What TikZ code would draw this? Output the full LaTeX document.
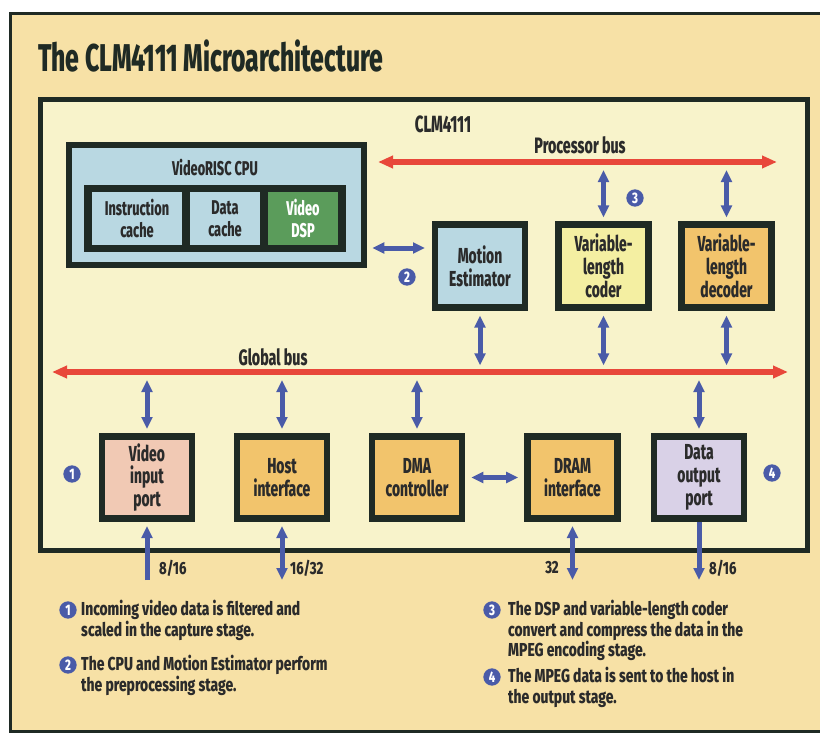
\documentclass[tikz,border=0pt]{standalone}
\usepackage{fontspec}
\setmainfont{Fira Sans}[FakeStretch=0.74,BoldFont={Fira Sans ExtraBold}]
\newfontfamily\unitfont{Fira Sans}[FakeStretch=0.64,BoldFont={Fira Sans ExtraBold}]
\usepackage{tikz}
\usetikzlibrary{arrows.meta,positioning,calc}
\definecolor{CLMInk}{HTML}{1F2A24}
\definecolor{CLMText}{HTML}{2B2B2B}
\definecolor{CLMRed}{HTML}{E8473A}
\definecolor{CLMBlue}{HTML}{4A5BA8}
\definecolor{CLMTan}{HTML}{F7E1A6}
\definecolor{CLMCream}{HTML}{F8F3CB}
\definecolor{CLMSky}{HTML}{B9D8E2}
\definecolor{CLMGreen}{HTML}{5B9C5B}
\definecolor{CLMLemon}{HTML}{F4EFA2}
\definecolor{CLMAmber}{HTML}{F2C46C}
\definecolor{CLMRose}{HTML}{F1C9B4}
\definecolor{CLMLilac}{HTML}{D9D1E7}

\begin{document}
\begin{tikzpicture}[
    x=0.03cm,y=-0.03cm,
    unit/.style={draw=CLMInk,line width=0.2cm,minimum width=2.7cm,
      minimum height=2.47cm,align=center,inner sep=0pt,text=CLMText,
      font=\unitfont\bfseries\fontsize{18.5}{19.5}\selectfont},
    cell/.style={minimum height=1.59cm,align=center,inner sep=0pt,
      fill=CLMSky,text=CLMText,font=\unitfont\bfseries\fontsize{17}{19}\selectfont},
    bus/.style={{Triangle[length=0.45cm,width=0.36cm]}-{Triangle[length=0.45cm,width=0.36cm]},
      line width=0.2cm,draw=CLMRed},
    link/.style={{Triangle[length=0.36cm,width=0.32cm]}-{Triangle[length=0.36cm,width=0.32cm]},
      line width=0.15cm,draw=CLMBlue},
    feed/.style={-{Triangle[length=0.36cm,width=0.32cm]},line width=0.15cm,draw=CLMBlue},
    num/.style={circle,fill=CLMBlue,text=white,inner sep=0pt,minimum size=0.52cm,
      font=\bfseries\fontsize{13}{13}\selectfont},
    tag/.style={inner sep=0pt,text=CLMText,font=\bfseries\fontsize{15}{17}\selectfont},
    note/.style={inner sep=0pt,align=left,text=CLMText,
      font=\bfseries\fontsize{16}{17.5}\selectfont}
  ]
    \useasboundingbox (0,0) rectangle (820,733);
    \clip (0,0) rectangle (820,733);
    \fill[white] (0,0) rectangle (820,733);
    \draw[CLMInk,line width=0.09cm,fill=CLMTan] (10,14) rectangle (840,731);
    \node[anchor=base west,inner sep=0pt,text=CLMInk,
      font=\unitfont\bfseries\fontsize{33}{35}\selectfont] (title) at (38,72)
      {The CLM4111 Microarchitecture};
    \draw[CLMInk,line width=0.15cm,fill=CLMCream] (40,100) rectangle (807,550);
    \node[tag,font=\unitfont\bfseries\fontsize{20}{22}\selectfont] (chip) at (443,124) {CLM4111};

    \node[draw=CLMInk,fill=CLMSky,line width=0.2cm,minimum width=8.85cm,
      minimum height=3.6cm,inner sep=0pt] (cpu) at (216.5,205) {};
    \node[tag,font=\unitfont\bfseries\fontsize{17}{19}\selectfont] (cputitle) at (215,168)
      {VideoRISC CPU};
    \node[fill=CLMInk,minimum width=7.86cm,minimum height=2.01cm,inner sep=0pt]
      (strip) at (215,218.5) {};
    \node[cell,minimum width=2.7cm] (icache) at (137,218.5) {Instruction\\cache};
    \node[cell,minimum width=2.1cm] (dcache) at (225,218.5) {Data\\cache};
    \node[cell,minimum width=2.1cm,fill=CLMGreen,text=white] (dsp) at (303,218.5)
      {Video\\DSP};

    \node[unit,fill=CLMSky] (me) at (480,266) {Motion\\Estimator};
    \node[unit,fill=CLMLemon] (vlc) at (603.5,266) {Variable-\\length\\coder};
    \node[unit,fill=CLMAmber] (vld) at (726.5,266) {Variable-\\length\\decoder};

    \node[unit,fill=CLMRose] (vip) at (147,477.5) {Video\\input\\port};
    \node[unit,fill=CLMAmber] (host) at (282,477.5) {Host\\interface};
    \node[unit,fill=CLMAmber] (dma) at (417,477.5) {DMA\\controller};
    \node[unit,fill=CLMAmber] (dram) at (572.5,477.5) {DRAM\\interface};
    \node[unit,fill=CLMLilac] (dop) at (699,477.5) {Data\\output\\port};

    \coordinate (pbL) at (378,162);
    \coordinate (pbR) at (777,162);
    \coordinate (gbL) at (52,372);
    \coordinate (gbR) at (788,372);
    \draw[bus] (pbL) -- (pbR);
    \draw[bus] (gbL) -- (gbR);
    \node[tag,font=\unitfont\bfseries\fontsize{19}{21}\selectfont] (pbtext) at (580,145)
      {Processor bus};
    \node[tag,font=\unitfont\bfseries\fontsize{19}{21}\selectfont] (gbtext) at (273,357)
      {Global bus};

    \draw[link,shorten <=0.24cm,shorten >=0.12cm] (vlc.north |- pbR) -- (vlc.north);
    \draw[link,shorten <=0.24cm,shorten >=0.12cm] (vld.north |- pbR) -- (vld.north);
    \foreach \u in {me,vlc,vld}
      \draw[link,shorten <=0.15cm,shorten >=0.2cm] (\u.south) -- (\u.south |- gbR);
    \foreach \u in {vip,host,dma,dop}
      \draw[link,shorten <=0.24cm,shorten >=0.12cm] (\u.north |- gbR) -- (\u.north);

    \path ([yshift=0.54cm]me.west) coordinate (meIn);
    \draw[link,shorten <=0.15cm,shorten >=0.2cm] (cpu.east |- meIn) -- (meIn);
    \draw[link,shorten <=0.18cm,shorten >=0.18cm] (dma) -- (dram);

    \coordinate (vipIn) at (147,580);
    \coordinate (hostIO) at (282,580);
    \coordinate (dramIO) at (572.5,580);
    \coordinate (dopOut) at (699,580);
    \draw[feed,shorten >=0.12cm] (vipIn) -- (vip.south);
    \draw[link,shorten >=0.12cm] (hostIO) -- (host.south);
    \draw[link,shorten >=0.12cm] (dramIO) -- (dram.south);
    \draw[feed] (dop.south) -- (dopOut);
    \node[tag,anchor=west] (w1) at (159,568) {8/16};
    \node[tag,anchor=west] (w2) at (290,568) {16/32};
    \node[tag,anchor=east] (w3) at (559,568) {32};
    \node[tag,anchor=west] (w4) at (709,568) {8/16};

    \node[num] (s1) at (72,474) {1};
    \node[num] (s2) at (407,277) {2};
    \node[num] (s3) at (635,198) {3};
    \node[num] (s4) at (772,473) {4};

    \node[num] (m1) at (68,610) {1};
    \node[note,anchor=north west] (t1) at (81,600)
      {Incoming video data is filtered and\\scaled in the capture stage.};
    \node[num] (m2) at (68,665) {2};
    \node[note,anchor=north west] (t2) at (81,655)
      {The CPU and Motion Estimator perform\\the preprocessing stage.};
    \node[num] (m3) at (492,610) {3};
    \node[note,anchor=north west] (t3) at (508,600)
      {The DSP and variable-length coder\\convert and compress the data in the\\MPEG encoding stage.};
    \node[num] (m4) at (492,677) {4};
    \node[note,anchor=north west] (t4) at (508,667)
      {The MPEG data is sent to the host in\\the output stage.};
  \end{tikzpicture}
\end{document}
